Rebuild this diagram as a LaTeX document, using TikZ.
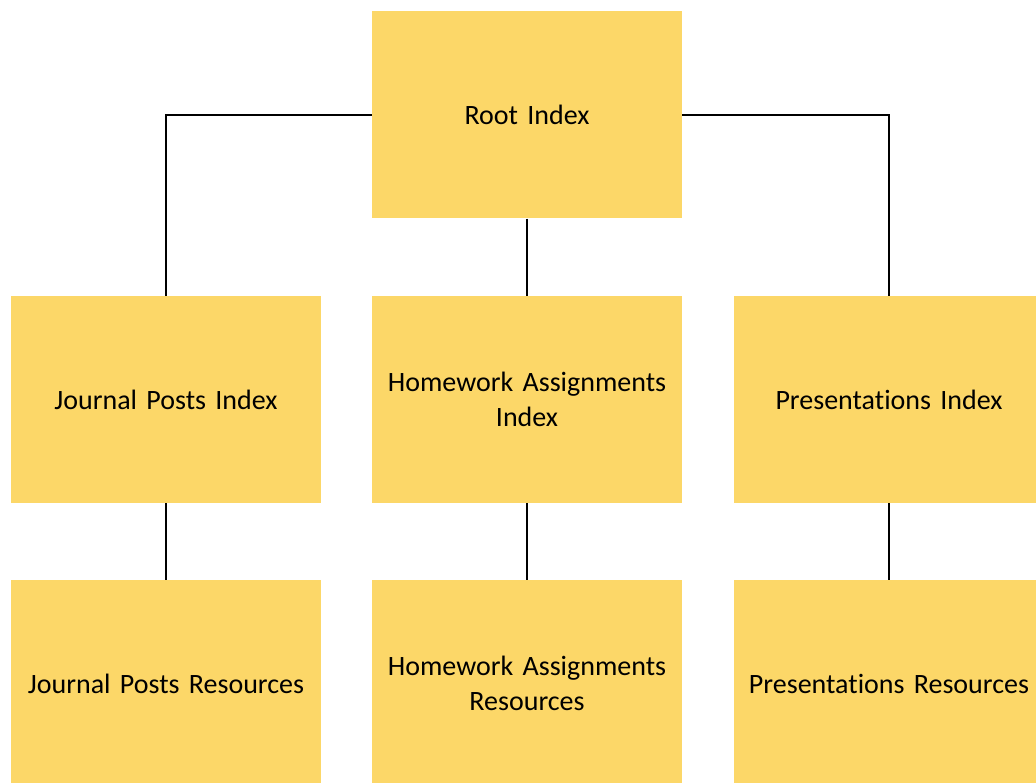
\documentclass[tikz,border=0pt]{standalone}
\usepackage{fontspec}
\setmainfont[Ligatures={NoCommon}]{Carlito}
\definecolor{boxfill}{HTML}{FCD768}
\tikzset{
  box/.style={rectangle, fill=boxfill, draw=none, minimum width=310pt, minimum height=207pt,
    inner sep=0pt, align=center, text width=300pt, font=\fontsize{28}{34.5}\selectfont},
  conn/.style={draw=black, line width=1.8pt}
}
\begin{document}
\begin{tikzpicture}[x=1pt,y=-1pt]
\useasboundingbox[fill=white] (0,0) rectangle (1036,783);
\node[box] (root) at (527,115) {Root Index};
\node[box] (jpi) at (166,399.5) {Journal Posts Index};
\node[box] (hai) at (527,399.5) {Homework Assignments\\Index};
\node[box] (pri) at (889,399.5) {Presentations Index};
\node[box] (jpr) at (166,683.5) {Journal Posts Resources};
\node[box] (har) at (527,683.5) {Homework Assignments\\Resources};
\node[box] (prr) at (889,683.5) {Presentations Resources};
\draw[conn] (root.west) -| (jpi.north);
\draw[conn] (root.east) -| (pri.north);
\draw[conn] (root.south) -- (hai.north);
\draw[conn] (jpi.south) -- (jpr.north);
\draw[conn] (hai.south) -- (har.north);
\draw[conn] (pri.south) -- (prr.north);
\end{tikzpicture}
\end{document}
